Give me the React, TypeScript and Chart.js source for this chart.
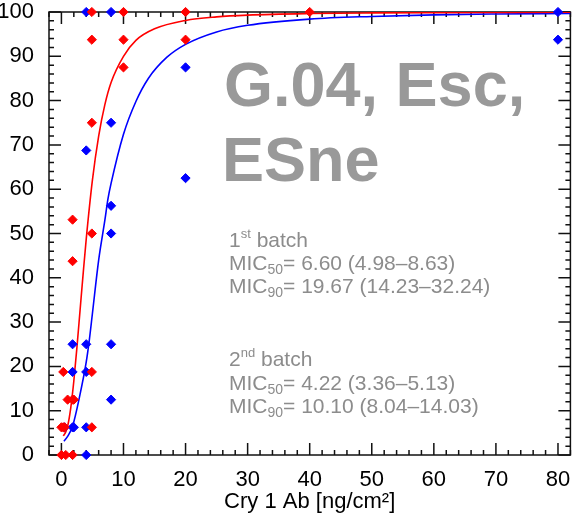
import React, { useEffect, useRef } from 'react';
import { Chart, registerables } from 'chart.js';

Chart.register(...registerables);

// Tick labels
const xTicks = [0, 10, 20, 30, 40, 50, 60, 70, 80];
const yTicks = [0, 10, 20, 30, 40, 50, 60, 70, 80, 90, 100];

// 2nd batch (red) observed points
const redX = [0, 0.7, 1.8, 0, 0.3, 0.5, 4.9, 1.0, 1.8, 2.0, 0.3, 4.9, 1.8, 1.8, 4.9, 4.9, 4.9, 10, 20, 10, 4.9, 10, 20, 40];
const redY = [0, 0, 0, 6.25, 6.25, 6.25, 6.25, 12.5, 12.5, 12.5, 18.75, 18.75, 43.75, 53.125, 50, 75, 93.75, 93.75, 93.75, 87.5, 100, 100, 100, 100];

// 1st batch (blue) observed points
const blueX = [4, 0.5, 1.8, 2.0, 4, 1.8, 4, 1.8, 4, 8, 8, 8, 8, 8, 4, 4, 8, 20, 20, 80, 80];
const blueY = [0, 6.25, 6.25, 6.25, 6.25, 18.75, 18.75, 25, 25, 25, 12.5, 50, 56.25, 75, 68.75, 100, 100, 87.5, 62.5, 100, 93.75];

// Fitted curves
const redCurveX = [0.3, 0.7, 1, 1.5, 2, 2.5, 3, 3.5, 4, 5, 6, 7, 8, 10, 12, 15, 20, 25, 30, 40, 50, 60, 70, 82];
const redCurveY = [4.3, 5.2, 6.5, 10.6, 16.7, 24.3, 32.6, 40.9, 48.8, 62.1, 72.0, 79.1, 84.1, 90.0, 93.6, 96.2, 98.1, 98.9, 99.3, 99.65, 99.8, 99.87, 99.9, 99.94];

const blueCurveX = [0.4, 1, 1.8, 2.9, 4, 4.5, 5, 6, 7, 7.5, 8, 10, 12, 14, 17, 20, 25, 30, 40, 50, 60, 70, 82];
const blueCurveY = [3.1, 4.2, 6.5, 13, 21, 26, 32, 44, 53, 57.8, 61.3, 72.4, 79.8, 85.0, 89.8, 92.7, 95.5, 97.0, 98.4, 99.0, 99.36, 99.55, 99.69];

const FAMILY = '"Liberation Sans", Arial, Helvetica, sans-serif';

const toPts = (xs: number[], ys: number[]) => xs.map((x, i) => ({ x, y: ys[i] }));

type Part = [string, 'n' | 'sup' | 'sub'];

function drawRich(ctx: CanvasRenderingContext2D, x: number, y: number, parts: Part[], size: number) {
  let cx = x;
  for (const [t, k] of parts) {
    if (k === 'n') {
      ctx.font = `${size}px ${FAMILY}`;
      ctx.fillText(t, cx, y);
    } else if (k === 'sup') {
      ctx.font = `${Math.round(size * 0.6)}px ${FAMILY}`;
      ctx.fillText(t, cx, y - size * 0.42);
    } else {
      ctx.font = `${Math.round(size * 0.65)}px ${FAMILY}`;
      ctx.fillText(t, cx, y + size * 0.18);
    }
    cx += ctx.measureText(t).width;
  }
}

const framePlugin = {
  id: 'frameTicks',
  beforeDatasetsDraw(chart: any) {
    const { ctx, chartArea, scales } = chart;
    const { left, right, top, bottom } = chartArea;
    const xs = scales.x;
    const ys = scales.y;
    ctx.save();
    ctx.strokeStyle = '#111';
    ctx.lineWidth = 1.5;
    ctx.strokeRect(left, top, right - left, bottom - top);
    ctx.beginPath();
    for (let v = Math.ceil(xs.min / 2) * 2; v <= xs.max; v += 2) {
      const px = xs.getPixelForValue(v);
      const len = v % 10 === 0 ? 12 : 5;
      ctx.moveTo(px, bottom);
      ctx.lineTo(px, bottom - len);
      ctx.moveTo(px, top);
      ctx.lineTo(px, top + len);
    }
    for (let v = Math.ceil(ys.min / 2) * 2; v <= ys.max; v += 2) {
      const py = ys.getPixelForValue(v);
      const len = v % 10 === 0 ? 12 : 5;
      ctx.moveTo(left, py);
      ctx.lineTo(left + len, py);
      ctx.moveTo(right, py);
      ctx.lineTo(right - len, py);
    }
    ctx.stroke();
    ctx.restore();
  },
  afterDraw(chart: any) {
    const { ctx } = chart;
    ctx.save();
    ctx.textBaseline = 'alphabetic';
    ctx.textAlign = 'left';
    ctx.fillStyle = '#999999';
    ctx.font = `bold 63px ${FAMILY}`;
    ctx.fillText('G.04, Esc,', 224, 106);
    ctx.fillText('ESne', 222, 181);

    ctx.fillStyle = '#8c8c8c';
    const s = 21;
    const x0 = 229;
    drawRich(ctx, x0, 247, [['1', 'n'], ['st', 'sup'], [' batch', 'n']], s);
    drawRich(ctx, x0, 270, [['MIC', 'n'], ['50', 'sub'], ['= 6.60 (4.98\u20138.63)', 'n']], s);
    drawRich(ctx, x0, 293, [['MIC', 'n'], ['90', 'sub'], ['= 19.67 (14.23\u201332.24)', 'n']], s);
    drawRich(ctx, x0, 366, [['2', 'n'], ['nd', 'sup'], [' batch', 'n']], s);
    drawRich(ctx, x0, 390, [['MIC', 'n'], ['50', 'sub'], ['= 4.22 (3.36\u20135.13)', 'n']], s);
    drawRich(ctx, x0, 413, [['MIC', 'n'], ['90', 'sub'], ['= 10.10 (8.04\u201314.03)', 'n']], s);
    ctx.restore();
  },
};

export default function App() {
  const ref = useRef<HTMLCanvasElement | null>(null);

  useEffect(() => {
    document.body.style.margin = '0';
    const canvas = ref.current;
    if (!canvas) return;
    const pointStyleOpts = {
      showLine: false,
      pointStyle: 'rectRot' as const,
      pointRadius: 4.6,
      pointBorderWidth: 1,
      clip: false as const,
    };
    const chart = new Chart(canvas, {
      type: 'scatter',
      data: {
        datasets: [
          {
            label: '2nd batch',
            data: toPts(redX, redY),
            backgroundColor: '#ff0000',
            borderColor: '#ff0000',
            ...pointStyleOpts,
          },
          {
            label: '1st batch',
            data: toPts(blueX, blueY),
            backgroundColor: '#0000ff',
            borderColor: '#0000ff',
            ...pointStyleOpts,
          },
          {
            label: 'fit 2nd',
            data: toPts(redCurveX, redCurveY),
            showLine: true,
            borderColor: '#ff0000',
            borderWidth: 1.6,
            pointRadius: 0,
            cubicInterpolationMode: 'monotone',
            clip: 0,
          } as any,
          {
            label: 'fit 1st',
            data: toPts(blueCurveX, blueCurveY),
            showLine: true,
            borderColor: '#0000ff',
            borderWidth: 1.6,
            pointRadius: 0,
            cubicInterpolationMode: 'monotone',
            clip: 0,
          } as any,
        ],
      },
      options: {
        responsive: false,
        animation: false,
        devicePixelRatio: 1,
        layout: { padding: { top: 12, right: 3, left: 0, bottom: 0 } },
        plugins: { legend: { display: false }, tooltip: { enabled: false } },
        scales: {
          x: {
            type: 'linear',
            min: -2,
            max: 82,
            grid: { display: false },
            border: { display: false },
            afterBuildTicks: (scale: any) => {
              scale.ticks = xTicks.map((v) => ({ value: v }));
            },
            afterFit: (scale: any) => {
              scale.height = 61;
              scale.paddingLeft = 0;
              scale.paddingRight = 0;
            },
            ticks: {
              color: '#000',
              padding: 4,
              maxRotation: 0,
              font: { family: FAMILY, size: 22 },
            },
            title: {
              display: true,
              text: 'Cry 1 Ab [ng/cm\u00b2]',
              color: '#000',
              font: { family: FAMILY, size: 22 },
              padding: { top: 0, bottom: 1 },
            },
          },
          y: {
            type: 'linear',
            min: 0,
            max: 100,
            grid: { display: false },
            border: { display: false },
            afterBuildTicks: (scale: any) => {
              scale.ticks = yTicks.map((v) => ({ value: v }));
            },
            afterFit: (scale: any) => {
              scale.width = 49;
              scale.paddingTop = 0;
              scale.paddingBottom = 0;
            },
            ticks: {
              color: '#000',
              padding: 7,
              font: { family: FAMILY, size: 22 },
            },
          },
        },
      },
      plugins: [framePlugin],
    });
    return () => chart.destroy();
  }, []);

  return (
    <div style={{ width: 576, height: 516 }}>
      <canvas ref={ref} width={576} height={516} style={{ display: 'block' }} />
    </div>
  );
}
